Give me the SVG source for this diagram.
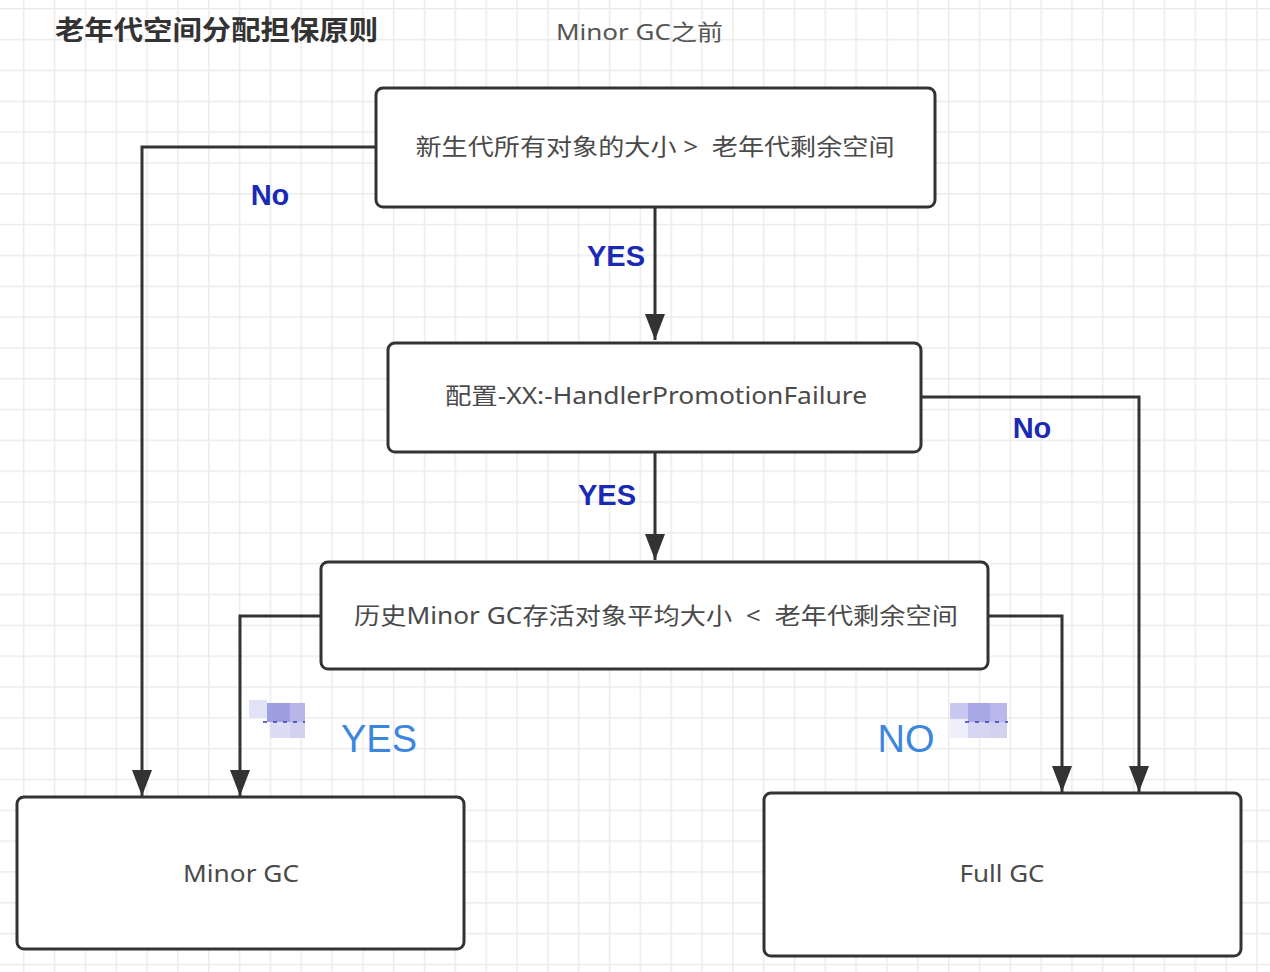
<svg xmlns="http://www.w3.org/2000/svg" width="1270" height="972" viewBox="0 0 1270 972">
<defs>
<pattern id="grid" x="23" y="8" width="30.83" height="30.83" patternUnits="userSpaceOnUse">
<path d="M0.7 0 V30.83 M0 0.7 H30.83" fill="none" stroke="#ebebeb" stroke-width="1.5"/>
</pattern>
<marker id="arr" viewBox="0 0 26 20" refX="26" refY="10" markerWidth="26" markerHeight="20" markerUnits="userSpaceOnUse" orient="auto">
<path d="M0 0 L26 10 L0 20 Z" fill="#333"/>
</marker>
<style>
.box{fill:#fff;stroke:#333;stroke-width:3}
.lbl{font-family:"Noto Sans","Noto Sans CJK SC",sans-serif;font-size:23px;fill:#4a4a4a;text-anchor:middle;white-space:pre}
.edge{fill:none;stroke:#333;stroke-width:3}
.yn{font-family:"Liberation Sans","Noto Sans",sans-serif;font-weight:bold;font-size:29px;fill:#1a2ab4;text-anchor:middle}
.big{font-family:"Liberation Sans","Noto Sans",sans-serif;font-size:38px;fill:#3d86dd;text-anchor:middle}
</style>
</defs>
<rect width="1270" height="972" fill="#fff"/>
<rect width="1270" height="972" fill="url(#grid)"/>

<g id="title">
<text x="55" y="40" font-family="'Noto Sans CJK SC',sans-serif" font-weight="bold" font-size="27" fill="#333" textLength="323" lengthAdjust="spacingAndGlyphs">老年代空间分配担保原则</text>
<text x="556" y="40" font-family="'Noto Sans','Noto Sans CJK SC',sans-serif" font-size="22" fill="#555" textLength="167" lengthAdjust="spacingAndGlyphs">Minor GC之前</text>
</g>

<g id="connectors">
<path class="edge" d="M655 207 V340" marker-end="url(#arr)"/>
<path class="edge" d="M655 452 V560" marker-end="url(#arr)"/>
<path class="edge" d="M376 147 H142 V796" marker-end="url(#arr)"/>
<path class="edge" d="M921 397 H1139 V792" marker-end="url(#arr)"/>
<path class="edge" d="M321 616 H240 V796" marker-end="url(#arr)"/>
<path class="edge" d="M988 616 H1062 V792" marker-end="url(#arr)"/>
<text class="yn" x="616" y="266">YES</text>
<text class="yn" x="607" y="505">YES</text>
<text class="yn" x="270" y="205">No</text>
<text class="yn" x="1032" y="438">No</text>
<text class="big" x="379" y="752">YES</text>
<text class="big" x="906" y="752">NO</text>
</g>

<g id="mosaic-left">
<rect x="249" y="700" width="18" height="18" fill="#e2e2f6"/>
<rect x="267" y="703" width="23" height="19" fill="#9e9ee2"/>
<rect x="290" y="703" width="15" height="19" fill="#b6b6ea"/>
<rect x="270" y="722" width="20" height="16" fill="#dcdcf4"/>
<rect x="290" y="722" width="15" height="16" fill="#d2d2f0"/>
<path d="M263 722 H305" stroke="#3a3ab0" stroke-width="1.5" stroke-dasharray="4 6"/>
</g>
<g id="mosaic-right">
<rect x="950" y="703" width="18" height="16" fill="#c8c8f0"/>
<rect x="950" y="719" width="18" height="19" fill="#efeffb"/>
<rect x="968" y="703" width="22" height="19" fill="#a8a8e6"/>
<rect x="990" y="703" width="17" height="19" fill="#b8b8ec"/>
<rect x="968" y="722" width="22" height="16" fill="#d6d6f3"/>
<rect x="990" y="722" width="17" height="16" fill="#d2d2f0"/>
<path d="M965 722 H1008" stroke="#3a3ab0" stroke-width="1.5" stroke-dasharray="4 6"/>
</g>

<g id="n1">
<rect class="box" x="376" y="88" width="559" height="119" rx="7"/>
<text class="lbl" x="655" y="155" textLength="479" lengthAdjust="spacingAndGlyphs" xml:space="preserve">新生代所有对象的大小 &gt;  老年代剩余空间</text>
</g>
<g id="n2">
<rect class="box" x="388" y="343" width="533" height="109" rx="7"/>
<text class="lbl" x="656" y="404" textLength="422" lengthAdjust="spacingAndGlyphs">配置-XX:-HandlerPromotionFailure</text>
</g>
<g id="n3">
<rect class="box" x="321" y="562" width="667" height="107" rx="7"/>
<text class="lbl" x="656" y="624" textLength="604" lengthAdjust="spacingAndGlyphs" xml:space="preserve">历史Minor GC存活对象平均大小  &lt;  老年代剩余空间</text>
</g>
<g id="n4">
<rect class="box" x="17" y="797" width="447" height="152" rx="7"/>
<text class="lbl" x="241" y="882" textLength="116" lengthAdjust="spacingAndGlyphs">Minor GC</text>
</g>
<g id="n5">
<rect class="box" x="764" y="793" width="477" height="163" rx="7"/>
<text class="lbl" x="1002" y="882" textLength="85" lengthAdjust="spacingAndGlyphs">Full GC</text>
</g>
</svg>
